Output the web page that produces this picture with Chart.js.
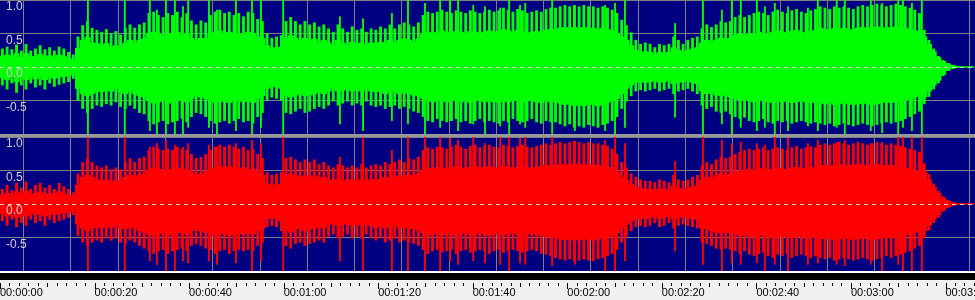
<!DOCTYPE html>
<html><head><meta charset="utf-8">
<script src="https://cdn.jsdelivr.net/npm/chart.js@4.4.1/dist/chart.umd.min.js"></script>
<style>
html,body{margin:0;padding:0;background:#f0f0f0;width:975px;height:300px;overflow:hidden;position:relative}
.abs{position:absolute;left:0;width:975px}
#navy{top:0;height:271px;background:#000080}
#band{top:134px;height:3px;background:#989898;z-index:5}
#wline{top:271px;height:2px;background:#ffffff;z-index:5}
#black{top:273px;height:7px;background:#000000;z-index:5}
canvas{position:absolute;left:0}
</style>
</head><body>
<div id="navy" class="abs"></div>
<canvas id="cTop" width="975" height="134" style="top:0px;width:975px;height:134px"></canvas>
<div id="band" class="abs"></div>
<canvas id="cBot" width="975" height="134" style="top:137px;width:975px;height:134px"></canvas>
<div id="wline" class="abs"></div>
<div id="black" class="abs"></div>
<canvas id="cAxis" width="975" height="28" style="top:272px;width:975px;height:28px"></canvas>
<script>
// ---- data: amplitude per 1-second bin ----
const viewStart = 0, viewEnd = 206.24;          // seconds visible
const yTicks = [-1, -0.5, 0, 0.5, 1];
// dense body of the waveform (solid part)
const greenBodyHi = [0.16,0.18,0.15,0.2,0.14,0.2,0.15,0.16,0.19,0.15,0.17,0.14,0.18,0.16,0.13,0.1,
0.28,
0.4,0.44,0.36,0.35,0.32,0.35,0.3,0.32,0.3,0.36,0.4,0.36,0.4,0.42,
0.5,0.52,0.49,0.47,0.5,0.49,0.52,0.47,0.5,0.43,0.4,0.43,0.42,0.49,0.52,0.54,0.5,0.52,0.49,0.5,0.48,0.52,0.5,0.45,0.43,
0.32,0.27,0.29,0.3,
0.43,0.47,0.43,0.4,0.43,0.4,0.42,0.37,0.4,
0.36,0.32,0.4,0.36,0.32,0.37,0.35,0.36,0.32,0.36,0.35,0.37,0.36,0.4,0.36,0.4,0.42,0.4,0.37,0.42,
0.49,0.52,0.5,0.52,0.54,0.52,0.5,0.53,0.52,0.5,0.53,0.52,0.5,0.52,0.54,0.52,0.53,0.56,0.54,0.52,0.55,0.53,0.5,0.52,0.53,0.52,0.55,0.56,
0.56,0.58,0.59,0.58,0.59,0.58,0.59,0.58,0.58,0.56,0.58,0.56,0.54,0.5,
0.45,0.4,0.32,0.25,0.22,0.23,
0.22,0.18,0.22,0.2,0.22,0.29,0.25,0.22,0.25,0.27,0.29,
0.36,0.4,0.37,0.4,0.43,0.42,0.43,
0.47,0.49,0.47,0.49,0.5,0.52,0.5,0.49,0.52,0.54,0.52,0.5,0.53,0.55,0.52,0.5,0.53,0.55,
0.58,0.56,0.55,0.58,0.56,0.58,0.56,0.55,0.58,0.59,0.58,0.59,0.6,0.59,0.58,0.59,0.6,0.59,0.58,0.56,0.54,0.5,
0.45,0.34,0.23,0.14,0.085,0.048,0.024,0.008,0.004,0.004,0.004];
const greenBodyLo = [-0.16,-0.19,-0.14,-0.22,-0.16,-0.19,-0.14,-0.18,-0.16,-0.19,-0.14,-0.17,-0.15,-0.14,-0.13,-0.1,
-0.32,
-0.4,-0.43,-0.4,-0.36,-0.37,-0.35,-0.36,-0.32,-0.37,-0.4,-0.36,-0.4,-0.43,-0.45,
-0.5,-0.54,-0.52,-0.5,-0.54,-0.52,-0.5,-0.49,-0.52,-0.47,-0.43,-0.45,-0.47,-0.5,-0.53,-0.52,-0.5,-0.53,-0.5,-0.49,-0.52,-0.5,-0.53,-0.47,-0.43,
-0.32,-0.29,-0.3,-0.32,
-0.43,-0.45,-0.42,-0.4,-0.43,-0.42,-0.4,-0.37,-0.4,
-0.36,-0.32,-0.36,-0.35,-0.32,-0.36,-0.35,-0.36,-0.32,-0.36,-0.37,-0.36,-0.4,-0.37,-0.36,-0.4,-0.37,-0.4,-0.42,-0.43,
-0.47,-0.5,-0.52,-0.49,-0.5,-0.52,-0.5,-0.49,-0.52,-0.5,-0.53,-0.5,-0.49,-0.52,-0.5,-0.52,-0.53,-0.5,-0.52,-0.49,-0.5,-0.52,-0.5,-0.49,-0.52,-0.53,-0.5,-0.52,
-0.52,-0.54,-0.56,-0.54,-0.58,-0.56,-0.58,-0.55,-0.56,-0.58,-0.55,-0.53,-0.5,-0.47,
-0.4,-0.32,-0.27,-0.23,-0.22,-0.23,
-0.22,-0.2,-0.23,-0.22,-0.2,-0.25,-0.23,-0.22,-0.2,-0.23,-0.25,
-0.36,-0.4,-0.37,-0.42,-0.43,-0.42,-0.45,
-0.47,-0.49,-0.48,-0.5,-0.52,-0.5,-0.49,-0.52,-0.53,-0.5,-0.52,-0.5,-0.53,-0.52,-0.5,-0.52,-0.53,-0.52,
-0.53,-0.55,-0.53,-0.56,-0.55,-0.53,-0.55,-0.56,-0.55,-0.53,-0.55,-0.56,-0.55,-0.53,-0.52,-0.53,-0.52,-0.5,-0.49,-0.47,-0.45,-0.42,
-0.45,-0.36,-0.27,-0.2,-0.11,-0.045,-0.018,-0.007,-0.004,-0.004,-0.004];
// outer peaks reached within each bin (hairline fringe)
const greenPeakHi = [0.27,0.3,0.26,0.33,0.24,0.34,0.24,0.27,0.32,0.26,0.29,0.24,0.3,0.27,0.22,0.18,
0.45,
0.62,0.68,0.58,0.55,0.52,0.56,0.5,0.53,0.48,0.58,0.63,0.58,0.63,0.66,
0.8,0.82,0.77,0.74,0.8,0.77,0.82,0.74,0.8,0.69,0.63,0.69,0.66,0.77,0.82,0.85,0.8,0.82,0.77,0.8,0.75,0.82,0.8,0.71,0.68,
0.5,0.43,0.45,0.47,
0.68,0.74,0.68,0.63,0.68,0.63,0.66,0.6,0.63,
0.57,0.52,0.63,0.57,0.52,0.6,0.55,0.57,0.52,0.57,0.55,0.6,0.57,0.63,0.57,0.63,0.66,0.63,0.6,0.66,
0.77,0.82,0.8,0.82,0.85,0.82,0.8,0.84,0.82,0.8,0.84,0.82,0.8,0.82,0.85,0.82,0.84,0.88,0.85,0.82,0.86,0.84,0.8,0.82,0.84,0.82,0.86,0.88,
0.88,0.9,0.92,0.9,0.92,0.9,0.92,0.9,0.9,0.88,0.9,0.88,0.85,0.8,
0.7,0.62,0.51,0.4,0.34,0.36,
0.34,0.29,0.34,0.32,0.34,0.45,0.4,0.34,0.4,0.43,0.45,
0.57,0.63,0.59,0.63,0.68,0.66,0.68,
0.74,0.77,0.74,0.77,0.8,0.82,0.8,0.77,0.82,0.85,0.82,0.8,0.84,0.86,0.82,0.8,0.84,0.86,
0.9,0.88,0.86,0.9,0.88,0.9,0.88,0.86,0.9,0.92,0.9,0.92,0.94,0.92,0.9,0.92,0.94,0.92,0.9,0.88,0.85,0.8,
0.55,0.4,0.27,0.16,0.1,0.055,0.028,0.009,0.004,0.004,0.004];
const greenPeakLo = [-0.27,-0.33,-0.24,-0.38,-0.27,-0.33,-0.24,-0.3,-0.27,-0.33,-0.24,-0.29,-0.26,-0.24,-0.22,-0.17,
-0.5,
-0.62,-0.68,-0.62,-0.57,-0.59,-0.55,-0.57,-0.52,-0.59,-0.62,-0.57,-0.62,-0.68,-0.7,
-0.8,-0.85,-0.82,-0.8,-0.85,-0.82,-0.8,-0.77,-0.82,-0.74,-0.68,-0.7,-0.74,-0.8,-0.84,-0.82,-0.8,-0.84,-0.8,-0.77,-0.82,-0.8,-0.84,-0.74,-0.68,
-0.5,-0.45,-0.47,-0.5,
-0.68,-0.7,-0.66,-0.62,-0.68,-0.66,-0.62,-0.59,-0.62,
-0.57,-0.51,-0.57,-0.54,-0.51,-0.57,-0.54,-0.57,-0.51,-0.57,-0.59,-0.57,-0.62,-0.59,-0.57,-0.62,-0.59,-0.62,-0.66,-0.68,
-0.74,-0.8,-0.82,-0.77,-0.8,-0.82,-0.8,-0.77,-0.82,-0.8,-0.84,-0.8,-0.77,-0.82,-0.8,-0.82,-0.84,-0.8,-0.82,-0.77,-0.8,-0.82,-0.8,-0.77,-0.82,-0.84,-0.8,-0.82,
-0.82,-0.85,-0.88,-0.85,-0.9,-0.88,-0.9,-0.86,-0.88,-0.9,-0.86,-0.84,-0.8,-0.74,
-0.62,-0.51,-0.43,-0.36,-0.34,-0.36,
-0.34,-0.32,-0.36,-0.34,-0.32,-0.4,-0.36,-0.34,-0.32,-0.36,-0.4,
-0.57,-0.62,-0.59,-0.66,-0.68,-0.66,-0.7,
-0.74,-0.77,-0.75,-0.8,-0.82,-0.8,-0.77,-0.82,-0.84,-0.8,-0.82,-0.8,-0.84,-0.82,-0.8,-0.82,-0.84,-0.82,
-0.84,-0.86,-0.84,-0.88,-0.86,-0.84,-0.86,-0.88,-0.86,-0.84,-0.86,-0.88,-0.86,-0.84,-0.82,-0.84,-0.82,-0.8,-0.77,-0.74,-0.7,-0.66,
-0.55,-0.44,-0.33,-0.24,-0.13,-0.055,-0.022,-0.009,-0.004,-0.004,-0.004];
const redBodyHi = [0.13,0.16,0.12,0.18,0.14,0.19,0.13,0.16,0.18,0.14,0.16,0.13,0.18,0.15,0.13,0.1,
0.28,
0.4,0.43,0.4,0.36,0.35,0.36,0.32,0.35,0.32,0.4,0.43,0.4,0.43,0.45,
0.5,0.54,0.52,0.5,0.52,0.5,0.54,0.52,0.5,0.47,0.43,0.45,0.47,0.5,0.54,0.56,0.54,0.56,0.54,0.52,0.54,0.5,0.52,0.47,0.43,
0.3,0.27,0.29,0.3,
0.43,0.45,0.42,0.4,0.42,0.4,0.42,0.37,0.4,
0.36,0.35,0.37,0.36,0.35,0.36,0.35,0.37,0.35,0.36,0.37,0.36,0.4,0.37,0.4,0.42,0.4,0.43,0.42,0.45,
0.5,0.53,0.52,0.54,0.53,0.52,0.54,0.56,0.54,0.52,0.55,0.56,0.53,0.55,0.56,0.54,0.53,0.56,0.55,0.53,0.55,0.56,0.54,0.53,0.55,0.56,0.58,0.56,
0.58,0.59,0.58,0.59,0.6,0.59,0.58,0.59,0.58,0.58,0.56,0.55,0.52,0.47,
0.4,0.35,0.29,0.25,0.23,0.22,
0.22,0.2,0.23,0.22,0.2,0.27,0.23,0.22,0.23,0.25,0.27,
0.36,0.4,0.37,0.42,0.45,0.43,0.45,
0.47,0.49,0.5,0.52,0.5,0.52,0.53,0.5,0.52,0.53,0.52,0.5,0.53,0.55,0.52,0.53,0.55,0.53,
0.56,0.58,0.56,0.58,0.59,0.58,0.56,0.58,0.59,0.58,0.56,0.58,0.59,0.58,0.56,0.58,0.56,0.55,0.53,0.52,0.5,0.49,
0.48,0.36,0.25,0.16,0.09,0.045,0.022,0.007,0.004,0.004,0.004];
const redBodyLo = [-0.14,-0.18,-0.13,-0.2,-0.16,-0.18,-0.13,-0.16,-0.14,-0.18,-0.13,-0.16,-0.14,-0.13,-0.12,-0.09,
-0.3,
-0.36,-0.4,-0.36,-0.35,-0.36,-0.32,-0.35,-0.32,-0.36,-0.37,-0.35,-0.36,-0.4,-0.42,
-0.45,-0.47,-0.45,-0.43,-0.47,-0.45,-0.43,-0.42,-0.45,-0.4,-0.37,-0.4,-0.42,-0.43,-0.47,-0.45,-0.43,-0.47,-0.45,-0.43,-0.45,-0.43,-0.45,-0.4,-0.36,
-0.22,-0.2,-0.22,-0.25,
-0.4,-0.42,-0.37,-0.36,-0.4,-0.37,-0.36,-0.35,-0.36,
-0.3,-0.29,-0.32,-0.3,-0.29,-0.32,-0.3,-0.32,-0.29,-0.32,-0.35,-0.32,-0.36,-0.35,-0.32,-0.36,-0.35,-0.36,-0.37,-0.4,
-0.43,-0.47,-0.45,-0.43,-0.46,-0.45,-0.43,-0.47,-0.45,-0.43,-0.46,-0.45,-0.43,-0.45,-0.47,-0.45,-0.43,-0.46,-0.45,-0.43,-0.45,-0.46,-0.45,-0.43,-0.45,-0.47,-0.48,-0.49,
-0.5,-0.52,-0.53,-0.52,-0.54,-0.53,-0.52,-0.53,-0.54,-0.52,-0.5,-0.49,-0.47,-0.43,
-0.36,-0.3,-0.25,-0.22,-0.2,-0.22,
-0.2,-0.18,-0.22,-0.2,-0.18,-0.23,-0.2,-0.19,-0.2,-0.22,-0.23,
-0.36,-0.37,-0.4,-0.42,-0.43,-0.42,-0.43,
-0.45,-0.47,-0.45,-0.48,-0.49,-0.47,-0.46,-0.49,-0.5,-0.48,-0.49,-0.47,-0.5,-0.49,-0.48,-0.49,-0.5,-0.49,
-0.5,-0.52,-0.5,-0.53,-0.52,-0.5,-0.52,-0.53,-0.52,-0.5,-0.52,-0.53,-0.52,-0.5,-0.49,-0.5,-0.49,-0.48,-0.46,-0.45,-0.42,-0.4,
-0.4,-0.32,-0.23,-0.16,-0.09,-0.045,-0.018,-0.007,-0.004,-0.004,-0.004];
const redPeakHi = [0.22,0.28,0.2,0.31,0.24,0.33,0.22,0.28,0.31,0.24,0.28,0.22,0.31,0.26,0.22,0.17,
0.45,
0.62,0.68,0.62,0.57,0.54,0.57,0.51,0.54,0.51,0.62,0.68,0.62,0.68,0.7,
0.8,0.85,0.82,0.8,0.82,0.8,0.85,0.82,0.8,0.74,0.68,0.7,0.74,0.8,0.85,0.88,0.85,0.88,0.85,0.82,0.85,0.8,0.82,0.74,0.68,
0.47,0.43,0.45,0.47,
0.68,0.7,0.66,0.62,0.66,0.62,0.66,0.59,0.62,
0.57,0.54,0.59,0.57,0.54,0.57,0.54,0.59,0.54,0.57,0.59,0.57,0.62,0.59,0.62,0.66,0.62,0.68,0.66,0.7,
0.8,0.84,0.82,0.85,0.84,0.82,0.85,0.88,0.85,0.82,0.86,0.88,0.84,0.86,0.88,0.85,0.84,0.88,0.86,0.84,0.86,0.88,0.85,0.84,0.86,0.88,0.9,0.88,
0.9,0.92,0.9,0.92,0.94,0.92,0.9,0.92,0.9,0.9,0.88,0.86,0.82,0.74,
0.62,0.54,0.45,0.4,0.36,0.34,
0.34,0.32,0.36,0.34,0.32,0.43,0.36,0.34,0.36,0.4,0.43,
0.57,0.62,0.59,0.66,0.7,0.68,0.7,
0.74,0.77,0.8,0.82,0.8,0.82,0.84,0.8,0.82,0.84,0.82,0.8,0.84,0.86,0.82,0.84,0.86,0.84,
0.88,0.9,0.88,0.9,0.92,0.9,0.88,0.9,0.92,0.9,0.88,0.9,0.92,0.9,0.88,0.9,0.88,0.86,0.84,0.82,0.8,0.77,
0.6,0.44,0.3,0.19,0.11,0.055,0.027,0.009,0.004,0.004,0.004];
const redPeakLo = [-0.25,-0.32,-0.23,-0.34,-0.28,-0.32,-0.23,-0.28,-0.25,-0.32,-0.23,-0.28,-0.25,-0.23,-0.2,-0.16,
-0.47,
-0.57,-0.62,-0.57,-0.54,-0.57,-0.51,-0.54,-0.51,-0.57,-0.59,-0.54,-0.57,-0.62,-0.66,
-0.7,-0.74,-0.7,-0.68,-0.74,-0.7,-0.68,-0.66,-0.7,-0.62,-0.59,-0.62,-0.66,-0.68,-0.74,-0.7,-0.68,-0.74,-0.7,-0.68,-0.7,-0.68,-0.7,-0.62,-0.57,
-0.34,-0.32,-0.34,-0.4,
-0.62,-0.66,-0.59,-0.57,-0.62,-0.59,-0.57,-0.54,-0.57,
-0.48,-0.45,-0.51,-0.48,-0.45,-0.51,-0.48,-0.51,-0.45,-0.51,-0.54,-0.51,-0.57,-0.54,-0.51,-0.57,-0.54,-0.57,-0.59,-0.62,
-0.68,-0.74,-0.7,-0.68,-0.72,-0.7,-0.68,-0.74,-0.7,-0.68,-0.72,-0.7,-0.68,-0.7,-0.74,-0.7,-0.68,-0.72,-0.7,-0.68,-0.7,-0.72,-0.7,-0.68,-0.7,-0.74,-0.75,-0.77,
-0.8,-0.82,-0.84,-0.82,-0.85,-0.84,-0.82,-0.84,-0.85,-0.82,-0.8,-0.77,-0.74,-0.68,
-0.57,-0.48,-0.4,-0.34,-0.32,-0.34,
-0.32,-0.28,-0.34,-0.32,-0.28,-0.36,-0.32,-0.3,-0.32,-0.34,-0.36,
-0.57,-0.59,-0.62,-0.66,-0.68,-0.66,-0.68,
-0.7,-0.74,-0.7,-0.75,-0.77,-0.74,-0.72,-0.77,-0.8,-0.75,-0.77,-0.74,-0.8,-0.77,-0.75,-0.77,-0.8,-0.77,
-0.8,-0.82,-0.8,-0.84,-0.82,-0.8,-0.82,-0.84,-0.82,-0.8,-0.82,-0.84,-0.82,-0.8,-0.77,-0.8,-0.77,-0.75,-0.72,-0.7,-0.66,-0.62,
-0.5,-0.39,-0.28,-0.2,-0.11,-0.055,-0.022,-0.009,-0.004,-0.004,-0.004];
// isolated transient peaks (seconds) and their extremes per channel
const spikeT = [18.6,26.4,31.7,33.2,35.1,37.0,38.7,39.8,44.2,45.9,49.9,53.3,55.2,59.9,71.9,76.8,82.9,86.3,89.9,93.1,95.2,96.9,100.1,102.6,105.8,107.7,110.0,111.1,116.8,121.6,128.0,130.1,132.2,142.8,148.7,152.7,154.8,156.7,160.1,161.8,163.9,166.7,170.9,173.0,177.0,178.7,184.2,186.6,190.0,191.0,192.9,195.0];
const greenSpikeHi = [1.0,1.0,1.0,0.85,1.0,1.0,0.9,1.0,1.0,0.85,1.0,1.0,1.0,1.0,0.75,0.72,0.8,1.0,0.95,1.0,1.0,1.0,0.92,0.9,0.88,1.0,0.92,0.95,1.0,0.9,0.92,0.95,1.0,0.65,1.0,0.85,1.0,1.0,1.0,0.9,0.95,0.9,0.88,1.0,1.0,1.0,1.0,0.95,1.0,1.0,0.95,1.0];
const greenSpikeLo = [-1.0,-1.0,-0.95,-1.0,-1.0,-1.0,-1.0,-0.9,-0.9,-1.0,-0.95,-1.0,-0.9,-1.0,-0.85,-0.95,-0.8,-0.85,-1.0,-0.9,-0.8,-0.95,-0.85,-1.0,-0.88,-1.0,-0.85,-0.9,-1.0,-0.95,-0.95,-1.0,-0.9,-0.75,-1.0,-0.85,-1.0,-0.9,-0.95,-0.9,-1.0,-0.95,-0.88,-0.95,-0.9,-1.0,-0.95,-0.98,-1.0,-0.9,-0.95,-1.0];
const redSpikeHi = [1.0,1.0,0.85,0.9,0.95,0.88,0.85,0.9,0.88,0.85,0.9,0.95,0.9,1.0,0.7,1.0,0.8,1.0,1.0,1.0,0.98,0.95,1.0,0.9,1.0,1.0,0.98,1.0,1.0,0.92,0.95,1.0,0.9,0.64,1.0,0.95,0.9,0.92,0.9,0.88,1.0,0.98,0.9,0.95,0.92,0.95,0.9,0.92,1.0,1.0,1.0,1.0];
const redSpikeLo = [-1.0,-1.0,-0.85,-0.9,-1.0,-1.0,-0.85,-0.88,-0.85,-0.9,-0.88,-1.0,-0.85,-1.0,-0.85,-1.0,-1.0,-1.0,-1.0,-1.0,-0.85,-0.9,-0.85,-0.88,-0.9,-1.0,-0.88,-0.9,-0.92,-0.9,-1.0,-1.0,-0.85,-0.7,-0.9,-1.0,-0.88,-0.9,-0.88,-1.0,-0.9,-1.0,-0.9,-0.88,-0.9,-0.92,-0.9,-1.0,-0.9,-1.0,-1.0,-1.0];

// ---- styling ----
const GRID = '#808080';
const zeroLine = {
  id: 'zeroLine',
  afterDatasetsDraw(chart) {
    const y = Math.round(chart.scales.y.getPixelForValue(0)) + 0.5;
    const {ctx, chartArea} = chart;
    ctx.save();
    ctx.strokeStyle = '#d0d0d0'; ctx.lineWidth = 1; ctx.setLineDash([4, 4]);
    ctx.beginPath(); ctx.moveTo(chartArea.left, y); ctx.lineTo(chartArea.right, y); ctx.stroke();
    ctx.restore();
  }
};
const noPad = s => { s.paddingTop = 0; s.paddingBottom = 0; s.paddingLeft = 0; s.paddingRight = 0; };

function bins(hi, lo) { return hi.map((h, i) => ({x: i + 0.5, y: [lo[i], h]})); }
function spikes(hi, lo) { return spikeT.map((t, i) => ({x: t, y: [lo[i], hi[i]]})); }

function panel(id, bHi, bLo, pHi, pLo, sHi, sLo, color) {
  const common = {backgroundColor: color, grouped: false, borderWidth: 0};
  return new Chart(document.getElementById(id), {
    type: 'bar',
    data: {datasets: [
      Object.assign({data: bins(bHi, bLo), barThickness: 5.4}, common),
      Object.assign({data: bins(pHi, pLo), barThickness: 2.2}, common),
      Object.assign({data: spikes(sHi, sLo), barThickness: 1.2}, common)
    ]},
    options: {
      responsive: false, animation: false, devicePixelRatio: 1,
      layout: {autoPadding: false, padding: 0},
      plugins: {legend: {display: false}, tooltip: {enabled: false}},
      scales: {
        x: {type: 'linear', min: viewStart, max: viewEnd, offset: false,
            afterFit: s => { s.height = 0; noPad(s); },
            ticks: {display: false, stepSize: 10, maxTicksLimit: 100, includeBounds: false},
            grid: {drawTicks: false, color: c => c.tick && c.tick.value === 0 ? 'rgba(0,0,0,0)' : GRID},
            border: {display: false}},
        y: {min: -1, max: 1, afterBuildTicks: s => { s.ticks = yTicks.map(v => ({value: v})); },
            afterFit: s => { s.width = 0; noPad(s); },
            ticks: {mirror: true, padding: 6, labelOffset: 7, color: '#d0d0d0', z: 1,
                    font: {family: 'Liberation Sans, Arial, sans-serif', size: 12},
                    callback: v => v.toFixed(1)},
            grid: {drawTicks: false, color: c => c.tick && c.tick.value === 0 ? 'rgba(0,0,0,0)' : GRID},
            border: {display: false}}
      }
    },
    plugins: [zeroLine]
  });
}
panel('cTop', greenBodyHi, greenBodyLo, greenPeakHi, greenPeakLo, greenSpikeHi, greenSpikeLo, '#00ff00');
panel('cBot', redBodyHi, redBodyLo, redPeakHi, redPeakLo, redSpikeHi, redSpikeLo, '#ff0000');

// ---- time ruler ----
function hms(s) {
  const h = Math.floor(s / 3600), m = Math.floor((s % 3600) / 60), ss = Math.round(s % 60);
  return [h, m, ss].map(n => String(n).padStart(2, '0')).join(':');
}
const RULER_TOP = 272;
const rulerTicks = {
  id: 'rulerTicks',
  afterDraw(chart) {
    const sc = chart.scales.x, ctx = chart.ctx;
    const y0 = 283 - RULER_TOP;
    ctx.save(); ctx.strokeStyle = '#000'; ctx.lineWidth = 1;
    sc.ticks.forEach(t => {
      const v = Math.round(t.value);
      const len = v % 20 === 0 ? 6 : (v % 10 === 0 ? 4 : 3);
      const x = Math.round(sc.getPixelForValue(t.value)) + 0.5;
      ctx.beginPath(); ctx.moveTo(x, y0); ctx.lineTo(x, y0 + len); ctx.stroke();
    });
    ctx.restore();
  }
};
new Chart(document.getElementById('cAxis'), {
  type: 'bar',
  data: {datasets: [{data: []}]},
  options: {
    responsive: false, animation: false, devicePixelRatio: 1,
    layout: {autoPadding: false, padding: 0},
    plugins: {legend: {display: false}, tooltip: {enabled: false}},
    scales: {
      x: {type: 'linear', min: viewStart, max: viewEnd, offset: false,
          afterFit: s => { s.height = 17; noPad(s); },
          ticks: {stepSize: 2, maxTicksLimit: 500, includeBounds: false, autoSkip: false, maxRotation: 0, minRotation: 0,
                  align: 'start', padding: 3, color: '#000',
                  font: {family: 'Liberation Sans, Arial, sans-serif', size: 11},
                  callback: v => (Math.round(v) % 20 === 0 ? hms(v) : '')},
          grid: {display: false, drawTicks: false},
          border: {display: false}},
      y: {display: false}
    }
  },
  plugins: [rulerTicks]
});
</script>
</body></html>
